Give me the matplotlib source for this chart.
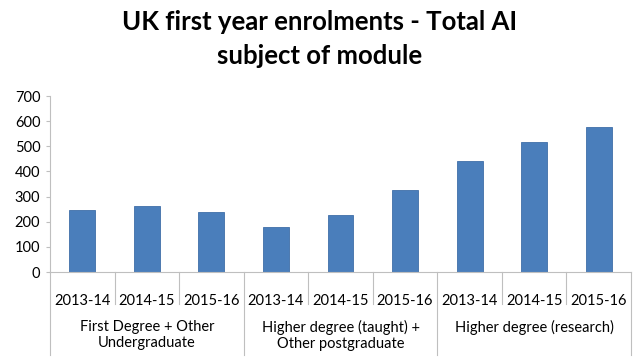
import matplotlib
matplotlib.use("Agg")
import matplotlib.pyplot as plt
from matplotlib import transforms

years = ["2013-14", "2014-15", "2015-16"] * 3
groups = ["First Degree + Other\nUndergraduate",
          "Higher degree (taught) +\nOther postgraduate",
          "Higher degree (research)"]
values = [245, 263, 238, 180, 225, 326, 443, 517, 578]

plt.rcParams['font.family'] = ['Lato', 'DejaVu Sans']

fig = plt.figure(figsize=(6.4, 3.63), dpi=100)
ax = fig.add_axes([50 / 640, 1 - 272 / 363, 581 / 640, 176 / 363])

x = list(range(len(values)))
ax.bar(x, values, width=0.4, color="#4A7EBB", edgecolor="#3F6EA8", linewidth=0.6)

ax.set_xlim(-0.5, len(values) - 0.5)
ax.set_ylim(0, 700)
ax.set_yticks(range(0, 701, 100))
ax.tick_params(axis="y", labelsize=10.5, length=3, color="#BFBFBF", pad=4)
ax.set_xticks(x)
ax.set_xticklabels(years, fontsize=10.5)
ax.tick_params(axis="x", length=0, pad=16)

for s in ["top", "right"]:
    ax.spines[s].set_visible(False)
for s in ["left", "bottom"]:
    ax.spines[s].set_color("#BFBFBF")

# separators under the axis
tr = transforms.blended_transform_factory(ax.transData, ax.transAxes)
for i in range(len(values) + 1):
    xs = i - 0.5
    bottom = -0.47 if i % 3 == 0 else -0.18
    ax.plot([xs, xs], [0, bottom], color="#BFBFBF", lw=0.8,
            transform=tr, clip_on=False)

for g, name in enumerate(groups):
    ax.text(g * 3 + 1, -0.27, name, transform=tr, ha="center", va="top",
            fontsize=10.5, linespacing=1.25)

fig.text(0.5, 1 - 39 / 363, "UK first year enrolments - Total AI\nsubject of module",
         ha="center", va="center", fontsize=18.5, fontweight="bold",
         linespacing=1.5)

fig.savefig("out.png", dpi=100)
